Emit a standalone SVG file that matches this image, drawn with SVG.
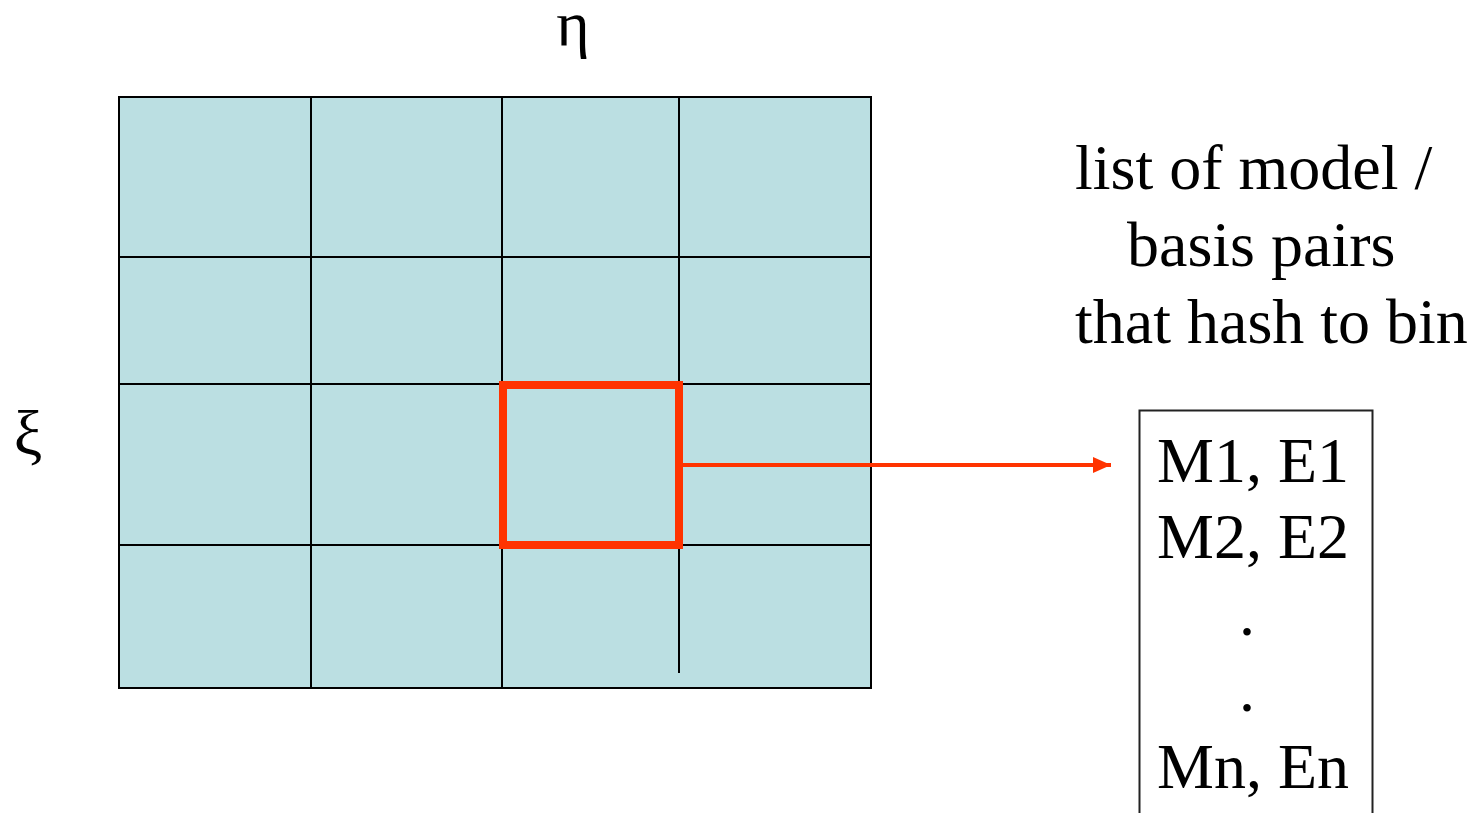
<svg xmlns="http://www.w3.org/2000/svg" width="1484" height="813" viewBox="0 0 1484 813">
<style>
.t{font-family:"Liberation Serif","Times New Roman",serif;font-size:64px;fill:#000}
.g{stroke:#000;stroke-width:2}
.r{stroke:#FF3300;fill:none}
</style>
<defs>
<marker id="ah" markerUnits="userSpaceOnUse" markerWidth="20" markerHeight="18" refX="18" refY="8" orient="auto">
<path d="M0,0 L18,8 L0,16 Z" fill="#FF3300"/>
</marker>
</defs>
<rect width="1484" height="813" fill="#fff"/>
<g id="grid">
<rect x="119" y="97" width="752" height="591" fill="#BBDFE2" class="g"/>
<line class="g" x1="311" y1="97" x2="311" y2="688"/>
<line class="g" x1="502" y1="97" x2="502" y2="688"/>
<line class="g" x1="679" y1="97" x2="679" y2="673"/>
<line class="g" x1="119" y1="257" x2="871" y2="257"/>
<line class="g" x1="119" y1="384" x2="871" y2="384"/>
<line class="g" x1="119" y1="545" x2="871" y2="545"/>
</g>
<g id="bin">
<rect x="503" y="385" width="176" height="160" class="r" stroke-width="8"/>
</g>
<g id="eta"><text class="t" x="573" y="45" text-anchor="middle">η</text></g>
<g id="xi"><text class="t" x="28" y="455" text-anchor="middle">ξ</text></g>
<g id="label">
<text class="t" x="1075" y="189">list of model /</text>
<text class="t" x="1127" y="266">basis pairs</text>
<text class="t" x="1075" y="343">that hash to bin</text>
</g>
<g id="list">
<rect x="1139.5" y="410.5" width="233" height="410" fill="none" stroke="#222" stroke-width="2"/>
<text class="t" x="1253" y="482" text-anchor="middle">M1, E1</text>
<text class="t" x="1253" y="558" text-anchor="middle">M2, E2</text>
<text class="t" x="1247" y="635" text-anchor="middle">.</text>
<text class="t" x="1247" y="711" text-anchor="middle">.</text>
<text class="t" x="1253" y="788" text-anchor="middle">Mn, En</text>
</g>
<g id="connectors">
<line x1="683" y1="465" x2="1111" y2="465" class="r" stroke-width="4" marker-end="url(#ah)"/>
</g>
</svg>
